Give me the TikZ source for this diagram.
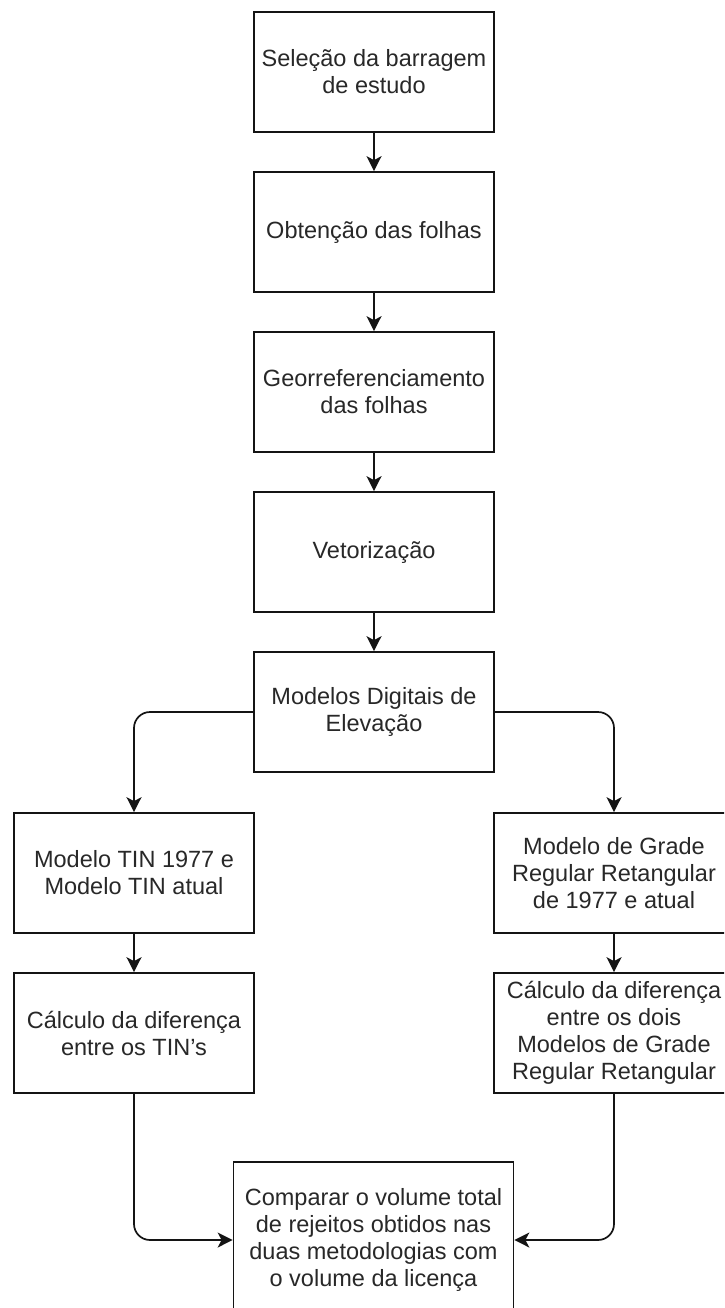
\documentclass[tikz,border=0pt]{standalone}
\usepackage{fontspec}
\setmainfont{Liberation Sans}
\usetikzlibrary{arrows.meta}
\definecolor{txt}{RGB}{40,40,40}
\definecolor{ln}{RGB}{20,20,20}
\tikzset{
  box/.style={draw=ln, line width=1.7pt, rectangle, minimum width=240pt, minimum height=120pt,
    inner sep=0pt, align=center, text=txt, font=\fontsize{23.5pt}{27pt}\selectfont},
  bigbox/.style={box, minimum width=280pt, minimum height=156pt},
  conn/.style={draw=ln, line width=1.7pt, rounded corners=16pt,
    -{Stealth[length=15pt,width=15pt,inset=4pt]}}
}
\begin{document}
\begin{tikzpicture}[x=1pt,y=-1pt]
\useasboundingbox (0,0) rectangle (724,1308);
\clip (0,0) rectangle (724,1308);
\fill[white] (0,0) rectangle (724,1308);
\node[box] (b1) at (374,72) {Seleção da barragem\\de estudo};
\node[box] (b2) at (374,232) {Obtenção das folhas};
\node[box] (b3) at (374,392) {Georreferenciamento\\das folhas};
\node[box] (b4) at (374,552) {Vetorização};
\node[box] (b5) at (374,712) {Modelos Digitais de\\Elevação};
\node[box] (l1) at (134,873) {Modelo TIN 1977 e\\Modelo TIN atual};
\node[box] (l2) at (134,1033) {Cálculo da diferença\\entre os TIN's};
\node[box] (r1) at (614,873) {Modelo de Grade\\Regular Retangular\\de 1977 e atual};
\node[box] (r2) at (614,1033) {Cálculo da diferença\\entre os dois\\Modelos de Grade\\Regular Retangular};
\node[bigbox] (f) at (373.5,1240) {Comparar o volume total\\de rejeitos obtidos nas\\duas metodologias com\\o volume da licença};
\draw[conn] (b1) -- (b2);
\draw[conn] (b2) -- (b3);
\draw[conn] (b3) -- (b4);
\draw[conn] (b4) -- (b5);
\draw[conn] (b5.west) -| (l1.north);
\draw[conn] (b5.east) -| (r1.north);
\draw[conn] (l1) -- (l2);
\draw[conn] (r1) -- (r2);
\draw[conn] (l2.south) |- (f.west);
\draw[conn] (r2.south) |- (f.east);
\end{tikzpicture}
\end{document}
